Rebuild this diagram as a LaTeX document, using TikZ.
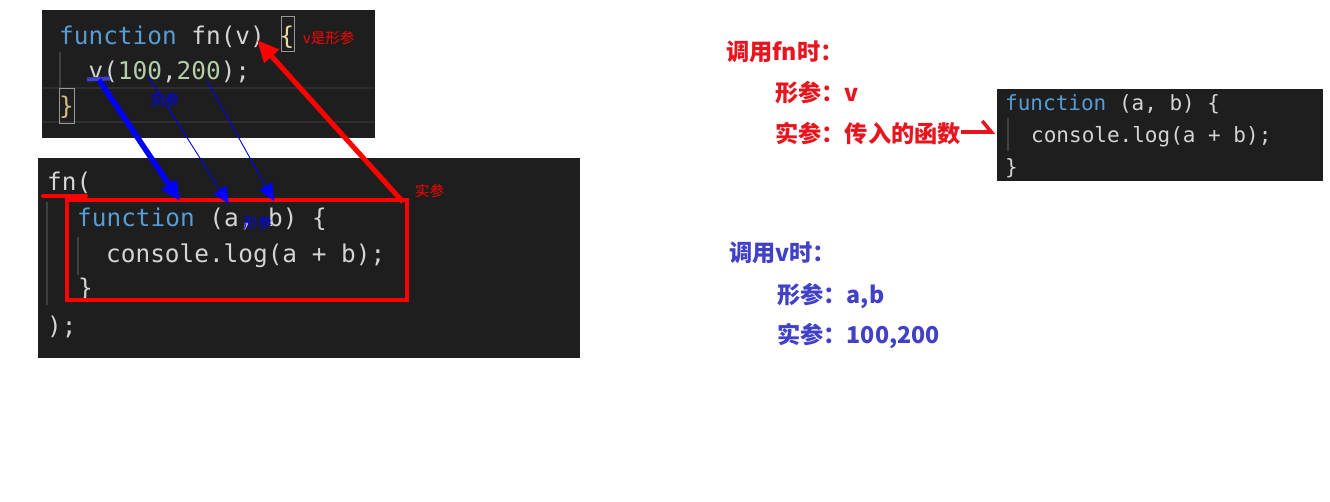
\documentclass[tikz,border=0pt]{standalone}
\usepackage{fontspec}
\usetikzlibrary{arrows.meta}
\newfontfamily\codefont{DejaVu Sans Mono}
\newfontfamily\cjk{Noto Sans CJK SC}
\definecolor{codebg}{HTML}{1E1E1E}
\definecolor{hlline}{HTML}{2E2E2E}
\definecolor{kw}{HTML}{569CD6}
\definecolor{txt}{HTML}{D4D4D4}
\definecolor{num}{HTML}{B5CEA8}
\definecolor{brk}{HTML}{E8D9A0}
\definecolor{brk2}{HTML}{D7BA7D}
\definecolor{guide}{HTML}{404040}
\definecolor{redc}{HTML}{E8141E}
\definecolor{bluec}{HTML}{4040C8}
\definecolor{arrblue}{HTML}{0000FF}
\definecolor{arrred}{HTML}{FF0000}
\tikzset{
  code/.style={font=\codefont\fontsize{24.4}{28}\selectfont, text=txt, inner sep=0pt, anchor=base west},
  codesm/.style={font=\codefont\fontsize{21}{25}\selectfont, text=txt, inner sep=0pt, anchor=base west},
  redtxt/.style={font=\cjk\bfseries\fontsize{23.2}{27}\selectfont, text=redc, inner sep=0pt, anchor=base west},
  bluetxt/.style={font=\cjk\bfseries\fontsize{23.2}{27}\selectfont, text=bluec, inner sep=0pt, anchor=base west},
  smalllbl/.style={font=\cjk\fontsize{14.5}{17}\selectfont, inner sep=0pt, anchor=base west},
  thickblue/.style={draw=arrblue, line width=5.5pt, -{Triangle[length=20pt,width=17pt]}},
  thinblue/.style={draw=arrblue, line width=0.9pt, -{Triangle[length=17pt,width=15pt]}},
  thickred/.style={draw=arrred, line width=5pt, -{Triangle[length=22pt,width=19pt]}},
  guideline/.style={draw=guide, line width=1.2pt},
  matchbox/.style={draw=gray!80, line width=1pt}
}
\begin{document}
\begin{tikzpicture}[x=1pt,y=-1pt]
\useasboundingbox (0,0) rectangle (1330,501);
\fill[white] (0,0) rectangle (1330,501);

% ---------- top code panel ----------
\fill[codebg] (42,10) rectangle (375,138);
\draw[hlline, line width=2pt] (42,88) -- (375,88);
\draw[hlline, line width=2pt] (42,122) -- (375,122);
\draw[guideline] (60,52) -- (60,88);
\draw[matchbox] (281,16) rectangle (294,51);
\draw[matchbox] (59,88) rectangle (74,123);
\node[code] (t1) at (59,44) {\textcolor{kw}{function} fn(v) \textcolor{brk}{\{}};
\node[code] (t2) at (88.4,79) {v(\textcolor{num}{100},\textcolor{num}{200});};
\node[code] (t3) at (59,114) {\textcolor{brk2}{\}}};
\node[smalllbl, text=arrred] (vlbl) at (303,43) {v是形参};
\node[smalllbl, text=arrblue] (slbl1) at (150,105) {实参};

% ---------- bottom code panel ----------
\fill[codebg] (38,158) rectangle (580,358);
\draw[guideline] (47,202) -- (47,305);
\draw[guideline] (78,237) -- (78,275);
\node[code] (b1) at (47,190) {fn(};
\node[code] (b2) at (77,226) {\textcolor{kw}{function} (a, b) \{};
\node[code] (b3) at (106,262) {console.log(a + b);};
\node[code] (b4) at (78,296) {\}};
\node[code] (b5) at (47,334) {);};
\draw[arrred, line width=4pt] (67,200) rectangle (407,300);
\draw[arrred, line width=4pt, line cap=round] (43,196) -- (86,196);
\node[smalllbl, text=arrblue] (slbl2) at (243,228) {形参};
\node[smalllbl, text=arrred] (slbl3) at (415,196) {实参};

% underline under v
\draw[bluec, line width=4pt] (87,79.5) -- (110,78.5);

% ---------- arrows ----------
\coordinate (a1s) at (99,80);
\coordinate (a1e) at (180,201);
\coordinate (a2s) at (148,76);
\coordinate (a2e) at (229,204);
\coordinate (a3s) at (207,81);
\coordinate (a3e) at (274,201);
\coordinate (a4s) at (403,202);
\coordinate (a4e) at (257,40);
\draw[thickblue] (a1s) -- (a1e);
\draw[thinblue] (a2s) -- (a2e);
\draw[thinblue] (a3s) -- (a3e);
\draw[thickred] (a4s) -- (a4e);

% ---------- right texts ----------
\node[redtxt] (r1) at (726,60) {调用fn时：};
\node[redtxt] (r2) at (775,101) {形参：v};
\node[redtxt] (r3) at (775,142) {实参：传入的函数};
\node[bluetxt] (u1) at (729,261) {调用v时：};
\node[bluetxt] (u2) at (777,303) {形参：a,b};
\node[bluetxt] (u3) at (777,343) {实参：100,200};

% ---------- right code panel ----------
\fill[codebg] (997,89) rectangle (1323,181);
\draw[guideline] (1008,118) -- (1008,151);
\node[codesm] (p1) at (1005,110) {\textcolor{kw}{function} (a, b) \{};
\node[codesm] (p2) at (1031,142) {console.log(a + b);};
\node[codesm] (p3) at (1005,174) {\}};
\coordinate (pw) at (995,132);
\draw[redc, line width=3.5pt, -{Straight Barb[left,length=9pt,width=22pt]}] (r3.east |- 0,132) -- (pw);
\end{tikzpicture}
\end{document}
